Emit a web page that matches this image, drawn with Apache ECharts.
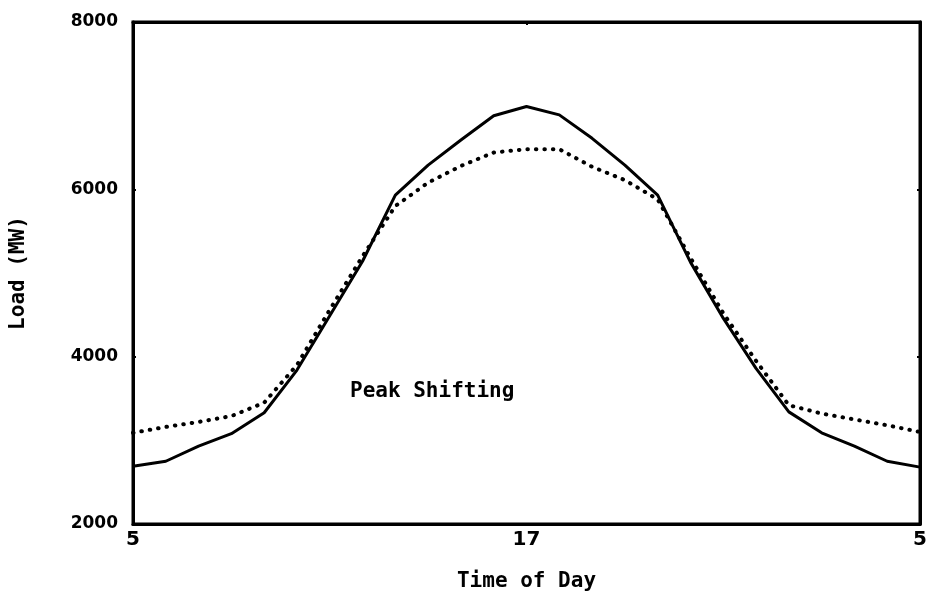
<!DOCTYPE html>
<html>
<head>
<meta charset="utf-8">
<script src="https://cdn.jsdelivr.net/npm/echarts@6/dist/echarts.min.js"></script>
<style>
  html, body { margin: 0; padding: 0; background: #fff; }
  #chart { width: 933px; height: 600px; }
</style>
</head>
<body>
<div id="chart"></div>
<script>
// clock hour, 5 am through 5 am next day
const hours = [5, 6, 7, 8, 9, 10, 11, 12, 13, 14, 15, 16, 17, 18, 19, 20, 21, 22, 23, 0, 1, 2, 3, 4, 5];
// solid curve (original load)
const baseLoad = [2690, 2750, 2930, 3080, 3330, 3840, 4490, 5140, 5930, 6290, 6590, 6880, 6990,
  6890, 6610, 6290, 5930, 5130, 4460, 3860, 3340, 3090, 2930, 2750, 2680];
// dotted curve (after peak shifting)
const shiftedLoad = [3090, 3160, 3220, 3290, 3450, 3900, 4560, 5200, 5800, 6080, 6280, 6440, 6480,
  6480, 6270, 6110, 5880, 5180, 4520, 3950, 3420, 3320, 3250, 3180, 3100];
const yTicks = [2000, 4000, 6000, 8000];

var chartDom = document.getElementById("chart");
var myChart = echarts.init(chartDom);
const labelFont = { color: "#000", fontFamily: "DejaVu Sans", fontWeight: "bold", fontSize: 17 };
const nameFont = { color: "#000", fontFamily: "DejaVu Sans Mono", fontWeight: "bold", fontSize: 21 };

var option = {
  animation: false,
  backgroundColor: "#fff",
  grid: {
    left: 133,
    right: 13,
    top: 22,
    bottom: 76,
    show: true,
    borderColor: "#000",
    borderWidth: 3,
  },
  xAxis: [
    {
      type: "category",
      data: hours,
      boundaryGap: false,
      name: "Time of Day",
      nameLocation: "middle",
      nameGap: 47,
      nameTextStyle: nameFont,
      axisLine: { lineStyle: { color: "#000", width: 3 } },
      axisTick: { show: false },
      axisLabel: Object.assign({}, labelFont, { interval: 11, margin: 6, fontSize: 20 }),
      splitLine: { show: false },
    },
    {
      type: "category",
      data: hours,
      position: "top",
      boundaryGap: false,
      axisLine: { lineStyle: { color: "#000", width: 3 } },
      axisTick: { show: true, inside: true, length: 3, interval: 11, lineStyle: { width: 2 } },
      axisLabel: { show: false },
    },
  ],
  yAxis: [
    {
      type: "value",
      min: 2000,
      max: 8000,
      interval: 2000,
      name: "Load (MW)",
      nameLocation: "middle",
      nameGap: 104,
      nameTextStyle: nameFont,
      axisLine: { show: true, lineStyle: { color: "#000", width: 3 } },
      axisTick: { show: true, inside: true, length: 3, lineStyle: { width: 2 } },
      axisLabel: Object.assign({
        margin: 15,
        formatter: (v) => (yTicks.includes(v) ? String(v) : ""),
      }, labelFont),
      splitLine: { show: false },
    },
    {
      type: "value",
      min: 2000,
      max: 8000,
      interval: 2000,
      position: "right",
      axisLine: { show: true, lineStyle: { color: "#000", width: 3 } },
      axisTick: { show: true, inside: true, length: 3, lineStyle: { width: 2 } },
      axisLabel: { show: false },
      splitLine: { show: false },
    },
  ],
  graphic: [
    {
      type: "text",
      left: 350,
      top: 381,
      style: {
        text: "Peak Shifting",
        fill: "#000",
        font: "bold 21px 'DejaVu Sans Mono'",
      },
    },
  ],
  series: [
    {
      name: "Base",
      type: "line",
      data: baseLoad,
      symbol: "none",
      lineStyle: { color: "#000", width: 3 },
      z: 3,
    },
    {
      name: "Shifted",
      type: "line",
      data: shiftedLoad,
      symbol: "none",
      lineStyle: { color: "#000", width: 4, type: [0.5, 8], cap: "round" },
      z: 2,
    },
  ],
};
option && myChart.setOption(option);
</script>
</body>
</html>
